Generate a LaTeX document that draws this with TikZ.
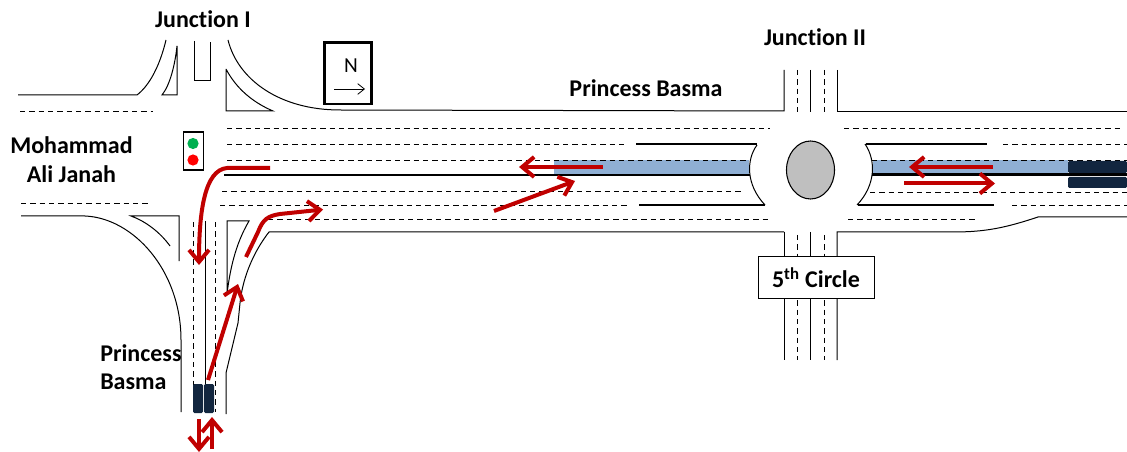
\documentclass[tikz,border=0pt]{standalone}
\usepackage{fontspec}
\setmainfont[Ligatures=NoCommon]{Carlito}
\usetikzlibrary{arrows.meta}
\definecolor{roadred}{HTML}{C00000}
\definecolor{laneblue}{HTML}{8FAFD4}
\definecolor{carblue}{HTML}{12263F}
\definecolor{signalgreen}{HTML}{00B050}
\tikzset{
  kerb/.style={line width=0.75pt},
  lane/.style={line width=0.7pt, dash pattern=on 4pt off 3pt},
  thickline/.style={line width=1.9pt},
  route/.style={draw=roadred, line width=3pt, -{Straight Barb[length=9pt,width=15pt,line width=3pt]}},
  label/.style={font=\bfseries\fontsize{18}{20}\selectfont, inner sep=0pt},
  car/.style={fill=carblue, draw=none, rounded corners=1pt}
}
\begin{document}
\begin{tikzpicture}[x=0.75pt,y=-0.75pt]
  \useasboundingbox (0,0) rectangle (1127,452);
  \fill[laneblue] (554,160) rectangle (749,175);
  \fill[laneblue] (873,160) rectangle (1068,175);

  \draw[kerb] (18,95) -- (137,95) .. controls (150,85) and (160,65) .. (166,40);
  \draw[kerb] (177,46) -- (177,95) -- (162,95) .. controls (170,85) and (175,65) .. (177,46);
  \draw[kerb] (194,41) -- (194,81) -- (210,81) -- (210,42);
  \draw[kerb] (228,40) .. controls (238,80) and (280,110) .. (340,110) -- (784,111) -- (784,70);
  \draw[kerb] (226,69) -- (226,111) -- (273,111) .. controls (252,102) and (236,88) .. (226,69);
  \draw[kerb] (21,216) -- (85,216) .. controls (133,218) and (181,270) .. (181,340) -- (181,412);
  \draw[kerb] (170,246) .. controls (160,232) and (145,221) .. (131,216) -- (179,216) -- (179,261);
  \draw[kerb] (205,221) -- (205,412);
  \draw[kerb] (227,294) -- (227,221) -- (249,221) .. controls (235,245) and (230,270) .. (227,294);
  \draw[kerb] (784,232) -- (269,232) .. controls (255,250) and (243,275) .. (240,303)
    -- (238,323) -- (226,373) -- (226,414);
  \draw[kerb] (784,232) -- (784,360);
  \draw[kerb] (810,232) -- (810,360);
  \draw[kerb] (837,360) -- (837,232) -- (953,232) .. controls (985,232) and (1005,228) .. (1038,217) -- (1127,217);
  \draw[kerb] (810,70) -- (810,112);
  \draw[kerb] (837,70) -- (837,112) -- (1127,112);
  \draw[kerb] (757,145) .. controls (746,160) and (746,185) .. (765,205);
  \draw[kerb] (865,144) .. controls (876,160) and (876,185) .. (857,205);

  \draw[lane] (20,111) -- (153,111);
  \draw[lane] (21,203) -- (148,203);
  \draw[lane] (193,222) -- (193,412);
  \draw[lane] (215,222) -- (215,412);
  \draw[lane] (227,128) -- (770,128);
  \draw[lane] (227,144) -- (627,144);
  \draw[lane] (227,160) -- (750,160);
  \draw[lane] (222,191) -- (743,191);
  \draw[lane] (220,205) -- (627,205);
  \draw[lane] (268,219) -- (770,219);
  \draw[lane] (844,128) -- (1120,128);
  \draw[lane] (1003,144) -- (1127,144);
  \draw[lane] (872,160) -- (1127,160);
  \draw[lane] (870,192) -- (1127,192);
  \draw[lane] (1012,205) -- (1127,205);
  \draw[lane] (848,219) -- (976,219);
  \draw[lane] (797,70) -- (797,112);
  \draw[lane] (824,70) -- (824,112);
  \draw[lane] (797,235) -- (797,360);
  \draw[lane] (824,235) -- (824,360);

  \draw[thickline] (224,175) -- (750,175);
  \draw[thickline] (872,174.5) -- (1127,174.5);
  \draw[thickline] (636,144) -- (757,144);
  \draw[thickline] (639,205) -- (765,205);
  \draw[thickline] (866,144) -- (987,144);
  \draw[thickline] (858,205) -- (994,205);

  \fill[car] (1068,161) rectangle (1127,173);
  \fill[car] (1068,177) rectangle (1127,188);
  \fill[car] (193,384) rectangle (203,413);
  \fill[car] (204,384) rectangle (214,413);

  \draw[black, fill=black!25, line width=0.8pt] (810.5,170) ellipse (24 and 29);

  \node (northbox) [draw, line width=2pt, minimum width=35pt, minimum height=46pt, inner sep=0pt] at (348,73.5) {};
  \node (northtxt) [font=\fontsize{16}{18}\selectfont, inner sep=0pt] at (351,66) {N};
  \draw[-{Straight Barb[length=5pt,width=8pt]}, line width=0.6pt] (334,89) -- (365,89);

  \node (signal) [draw, line width=0.8pt, minimum width=15.5pt, minimum height=28.5pt, inner sep=0pt] at (193.5,151) {};
  \fill[signalgreen] (193,143.5) circle (4.2pt);
  \fill[red] (193,160) circle (4.2pt);

  \node (circlebox) [draw, line width=0.7pt, fill=white, minimum width=87pt, minimum height=31pt, inner sep=0pt, label] at (816,277.5) {5\textsuperscript{th} Circle\hspace{3pt}};

  \node (juncone) [label] at (203,19.5) {Junction I};
  \node (junctwo) [label] at (815,37) {Junction II};
  \node (basmaeast) [label] at (646,88) {Princess Basma};
  \node (mohammad) [label] at (71.5,145) {Mohammad};
  \node (alijanah) [label] at (71.5,174) {Ali Janah};
  \node (princess) [label, anchor=west] at (100,353) {Princess};
  \node (basmasouth) [label, anchor=west] at (100,382) {Basma};

  \draw[route] (270,168) -- (227,168) .. controls (205,170) and (199,210) .. (199,265);
  \draw[route] (246,257) -- (258,232) .. controls (263,219) and (268,216) .. (280,214) -- (323,209.5);
  \draw[route] (208,380) -- (238,284);
  \draw[route] (199,419) -- (199,452);
  \draw[route] (212,449) -- (212,417);
  \draw[route] (603,167) -- (519,167);
  \draw[route] (494,211) -- (575,181);
  \draw[route] (993,167) -- (909,167);
  \draw[route] (904,183.5) -- (995,183.5);
\end{tikzpicture}
\end{document}
